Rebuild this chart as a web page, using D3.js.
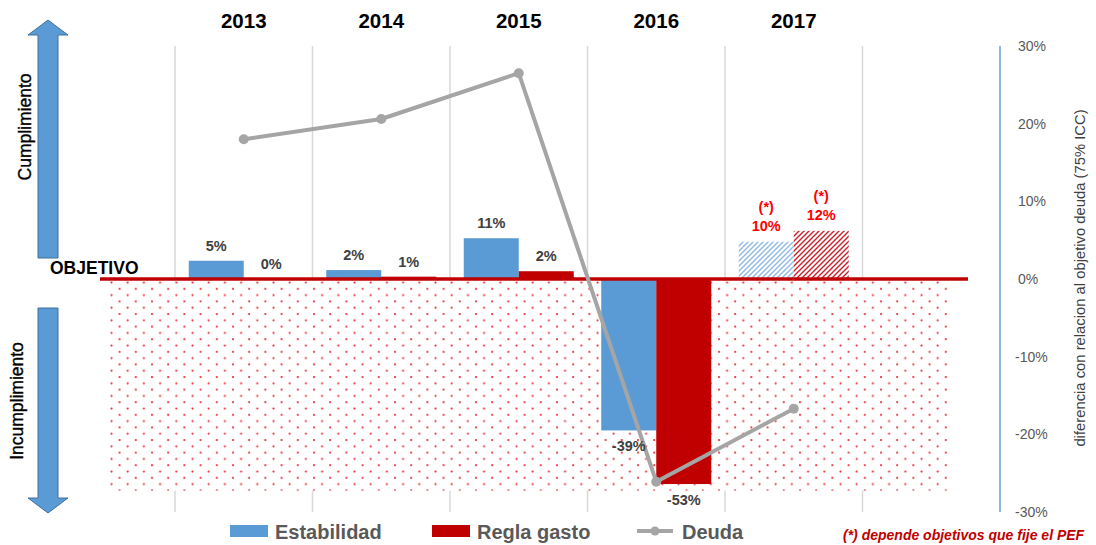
<!DOCTYPE html>
<html><head><meta charset="utf-8">
<script src="https://cdn.jsdelivr.net/npm/d3@7"></script>
<style>
html,body{margin:0;padding:0;background:#fff;}
svg{display:block;font-family:"Liberation Sans",Arial,sans-serif;}
</style></head>
<body><svg id="c" width="1096" height="545"></svg>
<script>
// ---- data ----
const years = ["2013","2014","2015","2016","2017"];
const slots = ["2013","2014","2015","2016","2017",""]; // last slot empty in the original
const seriesNames = ["Estabilidad","Regla gasto"];
const estabilidad = [0.047, 0.023, 0.105, -0.39, 0.096];
const reglaGasto = [0.0, 0.006, 0.02, -0.528, 0.124];
const deuda = [0.18, 0.206, 0.265, -0.261, -0.167];
const projected = [false, false, false, false, true];
const rightTicks = [-0.3, -0.2, -0.1, 0, 0.1, 0.2, 0.3];
const legendItems = ["Estabilidad", "Regla gasto", "Deuda"];

const colors = {Estabilidad: "#5b9bd5", "Regla gasto": "#c00000"};

const svg = d3.select("#c");
const plotTop = 46, plotBottom = 512;
const x = d3.scaleBand().domain(slots).range([175, 1000]).padding(0);
const xs = d3.scaleBand().domain(seriesNames).range([0, x.bandwidth()]).paddingInner(0).paddingOuter(0.25);
const yL = d3.scaleLinear().domain([-0.6, 0.6]).range([plotBottom, plotTop]);
const yR = d3.scaleLinear().domain([-0.3, 0.3]).range([plotBottom, plotTop]);
const pct = d3.formatLocale({decimal:".", thousands:",", grouping:[3], currency:["","€"], minus:"-"}).format(".0%");

// patterns
const defs = svg.append("defs");
const dots = defs.append("pattern").attr("id","dots").attr("patternUnits","userSpaceOnUse")
  .attr("width",16.2).attr("height",12.6).attr("x",110).attr("y",281);
dots.append("rect").attr("width",16.2).attr("height",12.6).attr("fill","#fff");
dots.append("circle").attr("cx",1.5).attr("cy",1.5).attr("r",1.1).attr("fill","#e62f36");
dots.append("circle").attr("cx",9.6).attr("cy",7.8).attr("r",1.1).attr("fill","#e62f36");
function hatch(id, col){
  const p = defs.append("pattern").attr("id",id).attr("patternUnits","userSpaceOnUse").attr("width",5).attr("height",5);
  p.append("rect").attr("width",5).attr("height",5).attr("fill","#fff");
  p.append("path").attr("d","M-1,1 l2,-2 M0,5 l5,-5 M4,6 l2,-2").attr("stroke",col).attr("stroke-width",1.4);
}
hatch("hatchB","#8fb8e2");
hatch("hatchR","#c8202a");

// gridlines (category boundaries)
const bounds = slots.map(s => x(s));
svg.append("g").selectAll("line").data(bounds).join("line")
  .attr("x1",d=>d).attr("x2",d=>d).attr("y1",plotTop).attr("y2",plotBottom)
  .attr("stroke","#d9d9d9").attr("stroke-width",1.5);

// dotted "incumplimiento" area
svg.append("rect").attr("x",110).attr("y",yL(0)+2).attr("width",840).attr("height",yL(-0.545)-yL(0)-2)
  .attr("fill","url(#dots)");

// right axis
const gR = svg.append("g").attr("transform","translate(1000,0)");
gR.append("line").attr("y1",yR(0.3)).attr("y2",yR(-0.3)).attr("stroke","#6d9fd3").attr("stroke-width",1.5);
gR.selectAll("text").data(rightTicks).join("text")
  .attr("x",d=>d<0?15:18).attr("y",d=>yR(d)).attr("dy","0.35em")
  .attr("font-size",14).attr("fill","#595959").text(d=>pct(d));
svg.append("text").attr("transform","translate(1085,278) rotate(-90)")
  .attr("text-anchor","middle").attr("font-size",14.8).attr("fill","#404040")
  .text("diferencia con relacion al objetivo deuda (75% ICC)");

// bars
const barData = [];
years.forEach((yr,i)=>{
  barData.push({year:yr, s:"Estabilidad", v:estabilidad[i], proj:projected[i]});
  barData.push({year:yr, s:"Regla gasto", v:reglaGasto[i], proj:projected[i]});
});
svg.append("g").selectAll("rect").data(barData).join("rect")
  .attr("x",d=>x(d.year)+xs(d.s)).attr("width",xs.bandwidth())
  .attr("y",d=>Math.min(yL(d.v),yL(0))).attr("height",d=>Math.abs(yL(d.v)-yL(0)))
  .attr("fill",d=>d.proj ? (d.s==="Estabilidad"?"url(#hatchB)":"url(#hatchR)") : colors[d.s]);

// objetivo line
svg.append("line").attr("x1",100).attr("x2",968).attr("y1",yL(0)).attr("y2",yL(0))
  .attr("stroke","#c00000").attr("stroke-width",3.5);

// deuda line
const line = d3.line().x((d,i)=>x(years[i])+x.bandwidth()/2).y(d=>yR(d));
svg.append("path").datum(deuda).attr("d",line).attr("fill","none")
  .attr("stroke","#a5a5a5").attr("stroke-width",4).attr("stroke-linejoin","round");
svg.append("g").selectAll("circle").data(deuda).join("circle")
  .attr("cx",(d,i)=>x(years[i])+x.bandwidth()/2).attr("cy",d=>yR(d)).attr("r",5).attr("fill","#a5a5a5");

// data labels
const lab = svg.append("g").attr("font-weight","bold").attr("font-size",14.5).attr("text-anchor","middle");
barData.forEach(d=>{
  const cx = x(d.year)+xs(d.s)+xs.bandwidth()/2;
  if(d.proj){
    lab.append("text").attr("x",cx).attr("y",yL(d.v)-11).attr("fill","#ff0000").text(pct(d.v));
    lab.append("text").attr("x",cx).attr("y",yL(d.v)-30).attr("fill","#ff0000").text("(*)");
  } else if(d.v>=0){
    lab.append("text").attr("x",cx).attr("y",yL(d.v)-10).attr("fill","#404040").text(pct(d.v));
  } else {
    lab.append("text").attr("x",cx).attr("y",yL(d.v)+21).attr("fill","#404040").text(pct(d.v));
  }
});

// year labels
svg.append("g").selectAll("text").data(years).join("text")
  .attr("x",d=>x(d)+x.bandwidth()/2).attr("y",28).attr("text-anchor","middle")
  .attr("font-size",20.5).attr("font-weight","bold").attr("fill","#000").text(d=>d);

// objetivo label
svg.append("text").attr("x",50).attr("y",274).attr("font-size",17.5).attr("font-weight","bold").attr("fill","#000").text("OBJETIVO");

// arrows
const arrowFill = "#5b9bd5", arrowStroke = "#41719c";
svg.append("path").attr("d","M38,258 L38,35 L28,35 L48,20 L68,35 L58,35 L58,258 Z")
  .attr("fill",arrowFill).attr("stroke",arrowStroke).attr("stroke-width",1);
svg.append("path").attr("d","M38,308 L58,308 L58,498 L68,498 L48,513 L28,498 L38,498 Z")
  .attr("fill",arrowFill).attr("stroke",arrowStroke).attr("stroke-width",1);
svg.append("text").attr("transform","translate(31,127) rotate(-90)").attr("text-anchor","middle")
  .attr("font-size",17.5).attr("fill","#000").attr("stroke","#000").attr("stroke-width",0.35).text("Cumplimiento");
svg.append("text").attr("transform","translate(23,401) rotate(-90)").attr("text-anchor","middle")
  .attr("font-size",17.5).attr("fill","#000").attr("stroke","#000").attr("stroke-width",0.35).text("Incumplimiento");

// legend
const lg = svg.append("g").attr("font-size",20).attr("font-weight","bold").attr("fill","#595959");
const lgX = [230, 432, 637];
legendItems.forEach((n,i)=>{
  if(n==="Deuda"){
    lg.append("line").attr("x1",lgX[i]).attr("x2",lgX[i]+36).attr("y1",531).attr("y2",531).attr("stroke","#a5a5a5").attr("stroke-width",4);
    lg.append("circle").attr("cx",lgX[i]+18).attr("cy",531).attr("r",4.5).attr("fill","#a5a5a5");
  } else {
    lg.append("rect").attr("x",lgX[i]).attr("y",525).attr("width",38).attr("height",12).attr("fill",colors[n]);
  }
  lg.append("text").attr("x",lgX[i]+45).attr("y",539).text(n);
});

// footnote
svg.append("text").attr("x",843).attr("y",540).attr("font-size",14).attr("font-weight","bold")
  .attr("font-style","italic").attr("fill","#c00000").text("(*) depende objetivos que fije el PEF");
</script></body></html>
